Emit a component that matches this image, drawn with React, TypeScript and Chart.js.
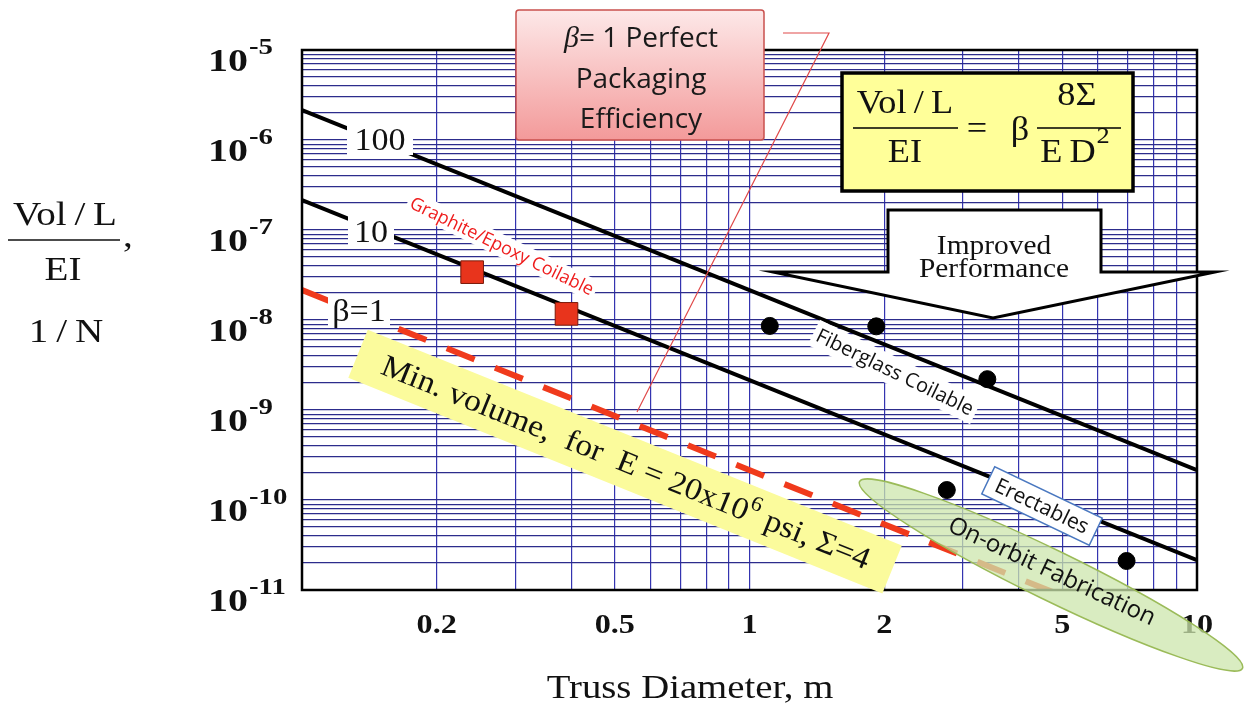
import React, { useEffect, useRef } from 'react';
import { Chart, registerables } from 'chart.js';

Chart.register(...registerables);

const SERIF = '"Liberation Serif", "Times New Roman", serif';
const SANS = '"Open Sans", "Noto Sans", sans-serif';

// ---- data ----
const lineDiameters = [0.1, 10];
const beta100Values = [2.15e-6, 2.15e-10];
const beta10Values = [2.15e-7, 2.15e-11];
const beta1Values = [2.15e-8, 2.15e-12];

const graphiteDiameters = [0.24, 0.39];
const graphiteValues = [3.4e-8, 1.17e-8];

const otherDiameters = [1.11, 1.92, 3.4, 2.76, 6.96];
const otherValues = [8.6e-9, 8.5e-9, 2.2e-9, 1.29e-10, 2.1e-11];

const xLabelValues = [0.2, 0.5, 1, 2, 5, 10];
const xLabelTexts = ['0.2', '0.5', '1', '2', '5', '10'];
const yLabelExponents = [-5, -6, -7, -8, -9, -10, -11];

const xDecades = [0.1, 1];
const yDecades = [1e-11, 1e-10, 1e-9, 1e-8, 1e-7, 1e-6];
const minorSteps = [1, 2, 3, 4, 5, 6, 7, 8, 9];

const xGridValues: number[] = [];
xDecades.forEach((d) => minorSteps.forEach((m) => xGridValues.push(d * m)));
xGridValues.push(10);
const yGridValues: number[] = [];
yDecades.forEach((d) => minorSteps.forEach((m) => yGridValues.push(d * m)));
yGridValues.push(1e-5);

const pts = (xs: number[], ys: number[]) => xs.map((x, i) => ({ x, y: ys[i] }));

function sText(
  ctx: CanvasRenderingContext2D,
  text: string,
  x: number,
  y: number,
  sx: number,
  align: CanvasTextAlign = 'left'
) {
  ctx.save();
  ctx.translate(x, y);
  ctx.scale(sx, 1);
  ctx.textAlign = align;
  ctx.fillText(text, 0, 0);
  ctx.restore();
}

function rotText(
  ctx: CanvasRenderingContext2D,
  text: string,
  cx: number,
  cy: number,
  deg: number,
  font: string,
  color: string,
  bg?: string,
  padX = 4,
  h = 26,
  border?: string
) {
  ctx.save();
  ctx.translate(cx, cy);
  ctx.rotate((deg * Math.PI) / 180);
  ctx.font = font;
  const w = ctx.measureText(text).width;
  if (bg) {
    ctx.fillStyle = bg;
    ctx.fillRect(-w / 2 - padX, -h / 2, w + 2 * padX, h);
    if (border) {
      ctx.strokeStyle = border;
      ctx.lineWidth = 1.5;
      ctx.strokeRect(-w / 2 - padX, -h / 2, w + 2 * padX, h);
    }
  }
  ctx.fillStyle = color;
  ctx.textAlign = 'center';
  ctx.textBaseline = 'middle';
  ctx.fillText(text, 0, 1);
  ctx.restore();
}

const overlayPlugin = {
  id: 'overlayPlugin',
  afterDatasetsDraw(chart: any) {
    const ctx: CanvasRenderingContext2D = chart.ctx;
    const ca = chart.chartArea;
    const xs = chart.scales.x;
    const ys = chart.scales.y;
    ctx.save();

    // plot frame
    ctx.strokeStyle = '#000';
    ctx.lineWidth = 2.5;
    ctx.strokeRect(ca.left, ca.top, ca.right - ca.left, ca.bottom - ca.top);

    // line labels with white background
    const lineLabel = (t: string, cx: number, cy: number, w: number) => {
      ctx.fillStyle = '#fff';
      ctx.fillRect(cx - w / 2, cy - 16, w, 32);
      ctx.fillStyle = '#111';
      ctx.font = `31px ${SERIF}`;
      ctx.textBaseline = 'alphabetic';
      sText(ctx, t, cx, cy + 11, 1.1, 'center');
    };
    lineLabel('100', 380, 139, 66);
    lineLabel('10', 371, 231, 46);
    lineLabel('\u03B2=1', 359, 310, 62);

    // rotated labels
    rotText(ctx, 'Graphite/Epoxy Coilable', 502, 246, 26, `18px ${SANS}`, '#ee1c1c', '#fff', 3, 22);
    rotText(ctx, 'Fiberglass Coilable', 895, 372, 26, `20px ${SANS}`, '#111', '#fff', 4, 28);

    // yellow band
    ctx.save();
    ctx.translate(626, 462);
    ctx.rotate((22 * Math.PI) / 180);
    ctx.fillStyle = '#fbfb9c';
    ctx.fillRect(-289, -26, 576, 52);
    ctx.fillStyle = '#111';
    ctx.textBaseline = 'middle';
    ctx.textAlign = 'left';
    const f1 = `31px ${SERIF}`;
    const f2 = `21px ${SERIF}`;
    const partA = 'Min. volume,  for  E = 20x10';
    const partB = '6';
    const partC = ' psi, \u03A3=4';
    ctx.font = f1;
    const wA = ctx.measureText(partA).width;
    const wC = ctx.measureText(partC).width;
    ctx.font = f2;
    const wB = ctx.measureText(partB).width;
    const k = 1.08;
    let sx = (-(wA + wB + wC) / 2) * k;
    ctx.font = f1;
    sText(ctx, partA, sx, 2, k);
    sx += wA * k;
    ctx.font = f2;
    sText(ctx, partB, sx, -9, k);
    sx += wB * k;
    ctx.font = f1;
    sText(ctx, partC, sx, 2, k);
    ctx.restore();

    // Improved performance arrow
    ctx.beginPath();
    ctx.moveTo(888, 210);
    ctx.lineTo(1101, 210);
    ctx.lineTo(1101, 272);
    ctx.lineTo(1215, 272);
    ctx.lineTo(993, 318);
    ctx.lineTo(773, 272);
    ctx.lineTo(888, 272);
    ctx.closePath();
    ctx.fillStyle = '#fff';
    ctx.fill();
    ctx.strokeStyle = '#000';
    ctx.lineWidth = 3;
    ctx.lineJoin = 'miter';
    ctx.stroke();
    ctx.fillStyle = '#111';
    ctx.font = `28px ${SERIF}`;
    ctx.textBaseline = 'alphabetic';
    sText(ctx, 'Improved', 994, 254, 1.05, 'center');
    sText(ctx, 'Performance', 994, 277, 1.05, 'center');

    // formula box
    ctx.fillStyle = '#ffff99';
    ctx.fillRect(842, 73, 291, 118);
    ctx.lineWidth = 3.5;
    ctx.strokeStyle = '#000';
    ctx.strokeRect(842, 73, 291, 118);
    ctx.fillStyle = '#111';
    ctx.font = `33px ${SERIF}`;
    sText(ctx, 'Vol\u2009/\u2009L', 905, 113, 1.1, 'center');
    sText(ctx, 'EI', 905, 162, 1.1, 'center');
    sText(ctx, '=', 977, 139, 1.1, 'center');
    sText(ctx, '\u03B2', 1020, 140, 1.1, 'center');
    sText(ctx, '8\u03A3', 1077, 105, 1.1, 'center');
    sText(ctx, 'E\u2009D', 1068, 162, 1.1, 'center');
    ctx.font = `24px ${SERIF}`;
    sText(ctx, '2', 1103, 143, 1.1, 'center');
    ctx.lineWidth = 1.5;
    ctx.beginPath();
    ctx.moveTo(853, 128);
    ctx.lineTo(958, 128);
    ctx.moveTo(1037, 128);
    ctx.lineTo(1121, 128);
    ctx.stroke();

    // callout line
    ctx.strokeStyle = '#e04a4a';
    ctx.lineWidth = 1.2;
    ctx.beginPath();
    ctx.moveTo(783, 33);
    ctx.lineTo(829, 33);
    ctx.lineTo(637, 412);
    ctx.stroke();

    // pink box
    const bx = 516, by = 10, bw = 248, bh = 130;
    const g = ctx.createLinearGradient(0, by, 0, by + bh);
    g.addColorStop(0, '#fde8e8');
    g.addColorStop(1, '#f39a9a');
    ctx.fillStyle = g;
    ctx.beginPath();
    ctx.roundRect(bx, by, bw, bh, 3);
    ctx.fill();
    ctx.strokeStyle = '#c9504d';
    ctx.lineWidth = 1.5;
    ctx.stroke();
    ctx.fillStyle = '#1a1a1a';
    ctx.textAlign = 'left';
    const fb = `italic 30px ${SERIF}`;
    const fs = `28px ${SANS}`;
    ctx.font = fb;
    const wBeta = ctx.measureText('\u03B2').width;
    ctx.font = fs;
    const wRest = ctx.measureText('= 1 Perfect').width;
    const lx = 641 - (wBeta + wRest) / 2;
    ctx.font = fb;
    ctx.fillText('\u03B2', lx, 47);
    ctx.font = fs;
    ctx.fillText('= 1 Perfect', lx + wBeta, 47);
    ctx.textAlign = 'center';
    ctx.fillText('Packaging', 641, 88);
    ctx.fillText('Efficiency', 641, 128);

    // Erectables box
    rotText(ctx, 'Erectables', 1042, 506, 25.6, `21px ${SANS}`, '#111', '#fff', 9, 30, '#4a78c0');

    // y tick labels
    ctx.fillStyle = '#111';
    ctx.textBaseline = 'alphabetic';
    yLabelExponents.forEach((e) => {
      const y = ys.getPixelForValue(Math.pow(10, e));
      ctx.font = `bold 32px ${SERIF}`;
      const w = ctx.measureText('10').width * 1.25;
      sText(ctx, '10', 208, y + 21, 1.25, 'left');
      ctx.font = `bold 24px ${SERIF}`;
      sText(ctx, '-' + String(-e), 208 + w + 1, y + 4, 1.2, 'left');
    });

    // x tick labels
    ctx.font = `bold 28px ${SERIF}`;
    xLabelValues.forEach((v, i) => {
      sText(ctx, xLabelTexts[i], xs.getPixelForValue(v), ca.bottom + 43, 1.15, 'center');
    });

    // axis titles
    ctx.font = `34px ${SERIF}`;
    sText(ctx, 'Truss Diameter, m', 690, 698, 1.14, 'center');

    ctx.font = `34px ${SERIF}`;
    sText(ctx, 'Vol\u2009/\u2009L', 65, 225, 1.15, 'center');
    sText(ctx, 'EI', 63, 280, 1.15, 'center');
    sText(ctx, ',', 128, 247, 1.15, 'center');
    sText(ctx, '1\u2009/\u2009N', 66, 342, 1.15, 'center');
    ctx.strokeStyle = '#111';
    ctx.lineWidth = 1.5;
    ctx.beginPath();
    ctx.moveTo(8, 240);
    ctx.lineTo(120, 240);
    ctx.stroke();

    // green ellipse
    ctx.save();
    ctx.translate(1051, 575);
    ctx.rotate((26 * Math.PI) / 180);
    ctx.beginPath();
    ctx.ellipse(0, 0, 213, 25, 0, 0, Math.PI * 2);
    ctx.fillStyle = 'rgba(204, 230, 172, 0.75)';
    ctx.fill();
    ctx.strokeStyle = '#9bbb59';
    ctx.lineWidth = 1.5;
    ctx.stroke();
    ctx.restore();
    rotText(ctx, 'On-orbit Fabrication', 1052, 571, 25, `24px ${SANS}`, '#111');

    ctx.restore();
  },
};

export default function App() {
  const ref = useRef<HTMLCanvasElement | null>(null);
  useEffect(() => {
    if (!ref.current) return;
    const gridH = { color: '#2c2c8c', lineWidth: 1.2, drawTicks: false };
    const gridV = { color: '#3434b0', lineWidth: 1.2, drawTicks: false };
    const chart = new Chart(ref.current, {
      type: 'scatter',
      data: {
        datasets: [
          {
            data: pts(graphiteDiameters, graphiteValues),
            pointStyle: 'rect',
            pointRadius: 16,
            backgroundColor: '#e8341c',
            borderColor: '#7a1a0a',
            borderWidth: 1,
          },
          {
            data: pts(otherDiameters, otherValues),
            pointStyle: 'circle',
            pointRadius: 8.5,
            backgroundColor: '#000',
            borderColor: '#000',
          },
          {
            data: pts(lineDiameters, beta100Values),
            showLine: true,
            borderColor: '#000',
            borderWidth: 4,
            pointRadius: 0,
          },
          {
            data: pts(lineDiameters, beta10Values),
            showLine: true,
            borderColor: '#000',
            borderWidth: 4,
            pointRadius: 0,
          },
          {
            data: pts(lineDiameters, beta1Values),
            showLine: true,
            borderColor: '#f03a1c',
            borderWidth: 6,
            borderDash: [30, 22],
            pointRadius: 0,
          },
        ],
      } as any,
      options: {
        responsive: false,
        animation: false,
        events: [],
        layout: { padding: { left: 302, top: 50, right: 47, bottom: 116 } },
        plugins: { legend: { display: false }, tooltip: { enabled: false } },
        scales: {
          x: {
            type: 'logarithmic',
            min: 0.1,
            max: 10,
            afterBuildTicks: (s: any) => {
              s.ticks = xGridValues.map((v) => ({ value: v }));
            },
            ticks: { display: false },
            grid: gridV,
            border: { display: false },
          },
          y: {
            type: 'logarithmic',
            min: 1e-11,
            max: 1e-5,
            afterBuildTicks: (s: any) => {
              s.ticks = yGridValues.map((v) => ({ value: v }));
            },
            ticks: { display: false },
            grid: gridH,
            border: { display: false },
          },
        },
      } as any,
      plugins: [overlayPlugin],
    });
    return () => chart.destroy();
  }, []);
  return (
    <div style={{ position: 'fixed', left: 0, top: 0, width: 1244, height: 706, background: '#fff' }}>
      <canvas ref={ref} width={1244} height={706} style={{ display: 'block' }} />
    </div>
  );
}
